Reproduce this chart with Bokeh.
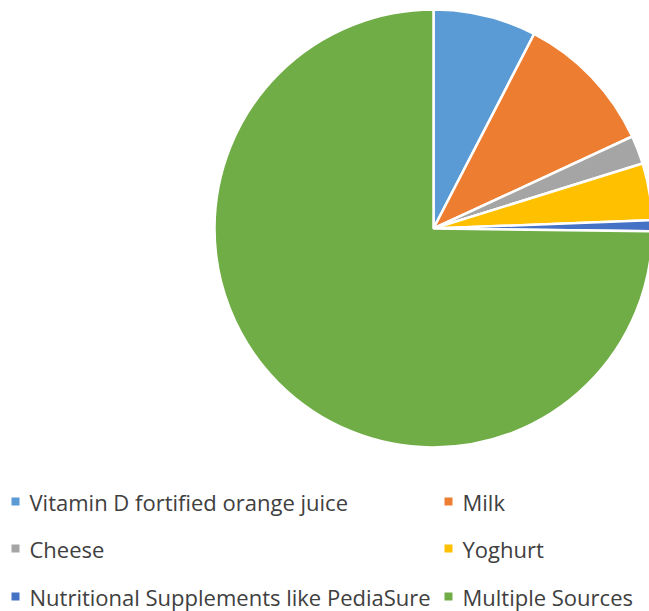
import numpy as np
from bokeh.plotting import figure
from bokeh.models import Range1d
from bokeh.core.properties import value
from bokeh.embed import file_html
from bokeh.resources import INLINE

categories = ["Vitamin D fortified orange juice", "Milk", "Cheese", "Yoghurt",
              "Nutritional Supplements like PediaSure", "Multiple Sources"]
shares = [7.6, 10.5, 2.1, 4.2, 0.8, 74.8]
colors = ["#5B9BD5", "#ED7D31", "#A5A5A5", "#FFC000", "#4472C4", "#70AD47"]

W, H = 649, 611
p = figure(width=W, height=H, output_backend="svg", toolbar_location=None,
           x_range=Range1d(0, W), y_range=Range1d(0, H),
           x_axis_location=None, y_axis_location=None, min_border=0)
p.outline_line_color = None
p.grid.visible = False

frac = np.array(shares) / sum(shares)
cum = np.concatenate([[0], np.cumsum(frac)])
start = np.pi / 2 - cum[:-1] * 2 * np.pi
end = np.pi / 2 - cum[1:] * 2 * np.pi
cx, cy, r = 433, H - 228, 219
p.wedge(x=cx, y=cy, radius=r, start_angle=start, end_angle=end, direction="clock",
        fill_color=colors, line_color="white", line_width=2.5)

# legend (two columns, three rows)
col_x = [15, 448]
row_y = [501, 548, 596]
lx = [col_x[i % 2] for i in range(len(categories))]
ly = [H - row_y[i // 2] for i in range(len(categories))]
p.rect(x=lx, y=ly, width=8, height=8, fill_color=colors, line_color=None)
p.text(x=[v + 14 for v in lx], y=ly, text=categories, text_font=value("Open Sans"),
       text_font_size="22px", text_color="#404040", text_baseline="middle", text_align="left")

open("out.html", "w").write(file_html(p, INLINE))
